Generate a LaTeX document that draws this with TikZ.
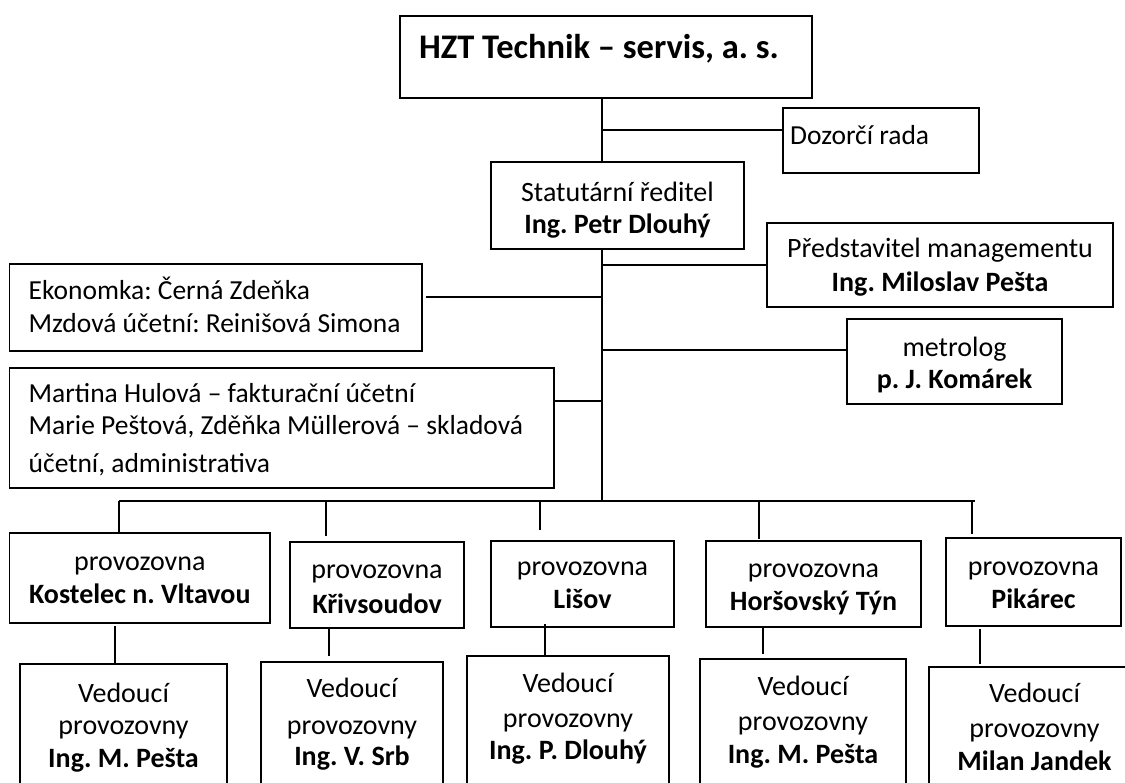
\documentclass[tikz,border=0pt]{standalone}
\usepackage{fontspec}
\setmainfont{Carlito}
\frenchspacing
\begin{document}
\begin{tikzpicture}[x=1pt,y=-1pt,
  box/.style={draw=black,line width=1.3pt,rectangle,inner sep=0pt,outer sep=0pt},
  conn/.style={draw=black,line width=1.3pt},
  txt/.style={inner sep=0pt,anchor=base,font=\fontsize{28}{33}\selectfont},
  btxt/.style={inner sep=0pt,anchor=base,font=\fontsize{28}{33}\selectfont\bfseries},
  ltxt/.style={inner sep=0pt,anchor=base west,font=\fontsize{27.5}{33}\selectfont},
  ttl/.style={inner sep=0pt,anchor=base,font=\fontsize{34.5}{40}\selectfont\bfseries}]
\useasboundingbox (0,0) rectangle (1125,783);
\clip (0,0) rectangle (1125,783);
\fill[white] (0,0) rectangle (1125,783);

% boxes
\node[box,minimum width=412pt,minimum height=82pt] (hzt) at (606,57) {};
\node[box,minimum width=196pt,minimum height=65pt] (dozor) at (881,140.5) {};
\node[box,minimum width=253pt,minimum height=87pt] (stat) at (617.5,205.5) {};
\node[box,minimum width=346pt,minimum height=84pt] (pred) at (940,265) {};
\node[box,minimum width=412.5pt,minimum height=87pt] (eko) at (215.75,307.5) {};
\node[box,minimum width=215pt,minimum height=85pt] (metro) at (954.5,361.5) {};
\node[box,minimum width=544.5pt,minimum height=120pt] (mart) at (281.75,428) {};
\node[box,minimum width=260.4pt,minimum height=90pt] (p1) at (139.8,578) {};
\node[box,minimum width=174pt,minimum height=86pt] (p2) at (377,585) {};
\node[box,minimum width=183pt,minimum height=86pt] (p3) at (582.5,584) {};
\node[box,minimum width=215pt,minimum height=86pt] (p4) at (813.5,584) {};
\node[box,minimum width=175pt,minimum height=88pt] (p5) at (1033.5,582) {};
\node[box,minimum width=207pt,minimum height=136pt] (v1) at (123.5,732) {};
\node[box,minimum width=182pt,minimum height=138pt] (v2) at (352,731) {};
\node[box,minimum width=202pt,minimum height=144pt] (v3) at (568,728) {};
\node[box,minimum width=206pt,minimum height=141pt] (v4) at (803,729.5) {};
\node[box,minimum width=211pt,minimum height=133pt] (v5) at (1034.5,733.5) {};

% texts
\node[ttl] (thzt) at (599,59) {HZT Technik – servis, a. s.};
\node[ltxt] (tdozor) at (790,145) {Dozorčí rada};
\node[txt] (tstat1) at (617.5,202) {Statutární ředitel};
\node[btxt] (tstat2) at (617.5,234) {Ing. Petr Dlouhý};
\node[txt] (tpred1) at (940,258) {Představitel managementu};
\node[btxt] (tpred2) at (940,292) {Ing. Miloslav Pešta};
\node[ltxt] (teko1) at (28.5,300) {Ekonomka: Černá Zdeňka};
\node[ltxt] (teko2) at (28.5,333) {Mzdová účetní: Reinišová Simona};
\node[txt] (tmet1) at (954.5,357) {metrolog};
\node[btxt] (tmet2) at (954.5,389) {p. J. Komárek};
\node[ltxt] (tmar1) at (28.5,403) {Martina Hulová – fakturační účetní};
\node[ltxt] (tmar2) at (28.5,435) {Marie Peštová, Zděňka Müllerová – skladová};
\node[ltxt] (tmar3) at (28.5,472) {účetní, administrativa};

\node[txt] (tp1a) at (139.8,570) {provozovna};
\node[btxt] (tp1b) at (139.8,603) {Kostelec n. Vltavou};
\node[txt] (tp2a) at (377,578) {provozovna};
\node[btxt] (tp2b) at (377,613) {Křivsoudov};
\node[txt] (tp3a) at (582.5,575) {provozovna};
\node[btxt] (tp3b) at (582.5,608) {Lišov};
\node[txt] (tp4a) at (813.5,577) {provozovna};
\node[btxt] (tp4b) at (813.5,610) {Horšovský Týn};
\node[txt] (tp5a) at (1033.5,575) {provozovna};
\node[btxt] (tp5b) at (1033.5,608) {Pikárec};

\node[txt] (tv1a) at (123.5,702) {Vedoucí};
\node[txt] (tv1b) at (123.5,734) {provozovny};
\node[btxt] (tv1c) at (123.5,767) {Ing. M. Pešta};
\node[txt] (tv2a) at (352,697) {Vedoucí};
\node[txt] (tv2b) at (352,734) {provozovny};
\node[btxt] (tv2c) at (352,765) {Ing. V. Srb};
\node[txt] (tv3a) at (568,692) {Vedoucí};
\node[txt] (tv3b) at (568,727) {provozovny};
\node[btxt] (tv3c) at (568,759) {Ing. P. Dlouhý};
\node[txt] (tv4a) at (803,695) {Vedoucí};
\node[txt] (tv4b) at (803,730) {provozovny};
\node[btxt] (tv4c) at (803,763) {Ing. M. Pešta};
\node[txt] (tv5a) at (1034.5,702) {Vedoucí};
\node[txt] (tv5b) at (1034.5,737) {provozovny};
\node[btxt] (tv5c) at (1034.5,770) {Milan Jandek};

% junction coordinates
\coordinate (tx) at (602,0);
\coordinate (j1) at (602,130);
\coordinate (j3) at (602,297);
\coordinate (j4) at (602,350);
\coordinate (j5) at (602,401);
\coordinate (bus1) at (119,501);
\coordinate (bus2) at (326,501);
\coordinate (bus3) at (540,501);
\coordinate (bus4) at (759,501);
\coordinate (bus5) at (972,501);
\coordinate (k1) at (115,0);
\coordinate (k2) at (329,0);
\coordinate (k3) at (545,0);
\coordinate (k4) at (763,0);
\coordinate (k5) at (980,0);

% connectors
\draw[conn] (hzt.south -| tx) -- (stat.north -| tx);
\draw[conn] (j1) -- (j1 -| dozor.west);
\draw[conn] (stat.south -| tx) -- (bus1 -| tx);
\draw[conn] (pred.west -| tx) -- (pred.west);
\draw[conn,shorten <=4pt] (j3 -| eko.east) -- (j3);
\draw[conn] (j4) -- (j4 -| metro.west);
\draw[conn] (j5 -| mart.east) -- (j5);
\draw[conn] (bus1) -- ([xshift=3pt]bus5);
\draw[conn] (bus1) -- (p1.north -| bus1);
\draw[conn,shorten >=6pt] (bus2) -- (p2.north -| bus2);
\draw[conn,shorten >=11pt] (bus3) -- (p3.north -| bus3);
\draw[conn,shorten >=2pt] (bus4) -- (p4.north -| bus4);
\draw[conn,shorten >=4pt] (bus5) -- (p5.north -| bus5);
\draw[conn,shorten <=3pt] (p1.south -| k1) -- (v1.north -| k1);
\draw[conn,shorten >=6pt] (p2.south -| k2) -- (v2.north -| k2);
\draw[conn,shorten <=-3pt,shorten >=1pt] (p3.south -| k3) -- (v3.north -| k3);
\draw[conn,shorten >=5pt] (p4.south -| k4) -- (v4.north -| k4);
\draw[conn,shorten <=3pt,shorten >=3pt] (p5.south -| k5) -- (v5.north -| k5);
\end{tikzpicture}
\end{document}
